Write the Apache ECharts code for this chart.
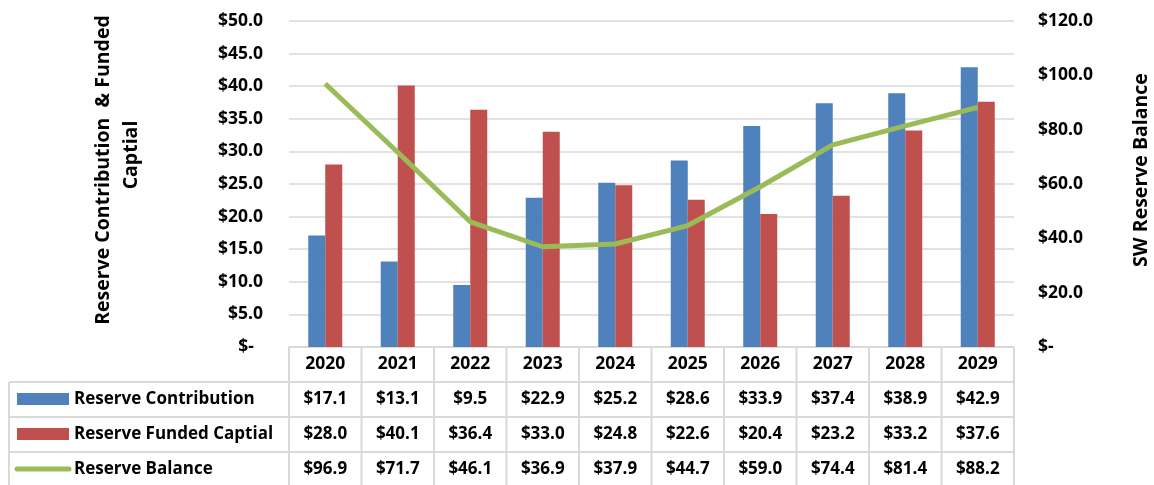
<!DOCTYPE html>
<html><head><meta charset="utf-8">
<script src="https://cdn.jsdelivr.net/npm/echarts@6/dist/echarts.min.js"></script>
<style>html,body{margin:0;padding:0;background:#fff}#c{width:1154px;height:485px}</style>
</head><body><div id="c"></div>
<script>
var years = ['2020','2021','2022','2023','2024','2025','2026','2027','2028','2029'];
var contribution = [17.1,13.1,9.5,22.9,25.2,28.6,33.9,37.4,38.9,42.9];
var fundedCapital = [28.0,40.1,36.4,33.0,24.8,22.6,20.4,23.2,33.2,37.6];
var reserveBalance = [96.9,71.7,46.1,36.9,37.9,44.7,59.0,74.4,81.4,88.2];
var seriesNames = ['Reserve Contribution','Reserve Funded Captial','Reserve Balance'];

var FONT = '"Open Sans", sans-serif';
var FS = 17.5;
var BLUE = '#4F81BD', RED = '#C0504D', GREEN = '#9BBB59', BORDER = '#D9D9D9';
function fmt(v){ return v === 0 ? '$-' : '$' + v.toFixed(1); }

var chart = echarts.init(document.getElementById('c'));
chart.setOption({
  animation: false,
  grid: {left: 289, right: 140, top: 21, bottom: 138},
  xAxis: {type: 'category', data: years, axisLabel: {show: false}, axisTick: {show: false}, axisLine: {show: false}},
  yAxis: [
    {type: 'value', min: 0, max: 50, interval: 5,
     axisLine: {show: false}, axisTick: {show: false},
     splitLine: {lineStyle: {color: BORDER, width: 1.5}},
     axisLabel: {margin: 26, fontFamily: FONT, fontWeight: 'bold', fontSize: FS, color: '#000',
       formatter: function(v){ return v === 0 ? '{z|$-}' : fmt(v); },
       rich: {z: {fontFamily: FONT, fontWeight: 'bold', fontSize: FS, color: '#000', padding: [0, 9, 0, 0]}}}},
    {type: 'value', min: 0, max: 120, interval: 20, position: 'right',
     axisLine: {show: false}, axisTick: {show: false}, splitLine: {show: false},
     axisLabel: {margin: 24, fontFamily: FONT, fontWeight: 'bold', fontSize: FS, color: '#000', formatter: fmt}}
  ],
  series: [
    {name: seriesNames[0], type: 'bar', data: contribution, barWidth: 17, barGap: '0%', itemStyle: {color: BLUE}, z: 2},
    {name: seriesNames[1], type: 'bar', data: fundedCapital, barWidth: 17, itemStyle: {color: RED}, z: 2},
    {name: seriesNames[2], type: 'line', yAxisIndex: 1, data: reserveBalance, symbol: 'none',
     lineStyle: {color: GREEN, width: 5}, itemStyle: {color: GREEN}, z: 5}
  ]
});

// Data table below the plot, built from the arrays
var g = [];
var x0 = chart.convertToPixel({xAxisIndex: 0}, 0);
var x1 = chart.convertToPixel({xAxisIndex: 0}, 1);
var cw = x1 - x0;
var leftEdge = x0 - cw / 2, rightEdge = leftEdge + cw * years.length;
var rowTop = [347, 382, 417, 452], rowH = 35, tableBottom = 490, tableLeft = 9;
var FT = 'bold 17px ' + FONT, FY = 'bold 17.5px ' + FONT, FTitle = 'bold 19.5px ' + FONT;
function line(xa, ya, xb, yb){ g.push({type: 'line', shape: {x1: xa, y1: ya, x2: xb, y2: yb}, style: {stroke: BORDER, lineWidth: 2}, silent: true}); }
function txt(s, x, y, align, f){ g.push({type: 'text', x: x, y: y, style: {text: s, fill: '#000', font: f || FT, textAlign: align || 'center', textVerticalAlign: 'middle'}, silent: true}); }
line(leftEdge, rowTop[0], rightEdge, rowTop[0]);
for (var r = 1; r < rowTop.length; r++) line(tableLeft, rowTop[r], rightEdge, rowTop[r]);
line(tableLeft, rowTop[1], tableLeft, tableBottom);
for (var i = 0; i <= years.length; i++) line(leftEdge + cw * i, rowTop[0], leftEdge + cw * i, tableBottom);
var rows = [contribution, fundedCapital, reserveBalance];
for (var i = 0; i < years.length; i++) {
  var cx = chart.convertToPixel({xAxisIndex: 0}, i);
  txt(years[i], cx, rowTop[0] + rowH / 2, 'center', FY);
  for (var r = 0; r < rows.length; r++) txt(fmt(rows[r][i]), cx, rowTop[r + 1] + rowH / 2);
}
// legend keys in the table
g.push({type: 'rect', shape: {x: 17, y: 393, width: 52, height: 12}, style: {fill: BLUE}, silent: true});
g.push({type: 'rect', shape: {x: 17, y: 428, width: 52, height: 12}, style: {fill: RED}, silent: true});
g.push({type: 'line', shape: {x1: 17, y1: 469, x2: 69, y2: 469}, style: {stroke: GREEN, lineWidth: 5, lineCap: 'round'}, silent: true});
for (var r = 0; r < seriesNames.length; r++) txt(seriesNames[r], 74, rowTop[r + 1] + rowH / 2, 'left');
// axis titles
g.push({type: 'text', x: 103, y: 170, rotation: Math.PI / 2, style: {text: 'Reserve Contribution  & Funded', fill: '#000', font: FTitle, textAlign: 'center', textVerticalAlign: 'middle'}, silent: true});
g.push({type: 'text', x: 131, y: 155, rotation: Math.PI / 2, style: {text: 'Captial', fill: '#000', font: FTitle, textAlign: 'center', textVerticalAlign: 'middle'}, silent: true});
g.push({type: 'text', x: 1141, y: 170, rotation: Math.PI / 2, style: {text: 'SW Reserve Balance', fill: '#000', font: FTitle, textAlign: 'center', textVerticalAlign: 'middle'}, silent: true});
chart.setOption({graphic: g});
</script></body></html>
